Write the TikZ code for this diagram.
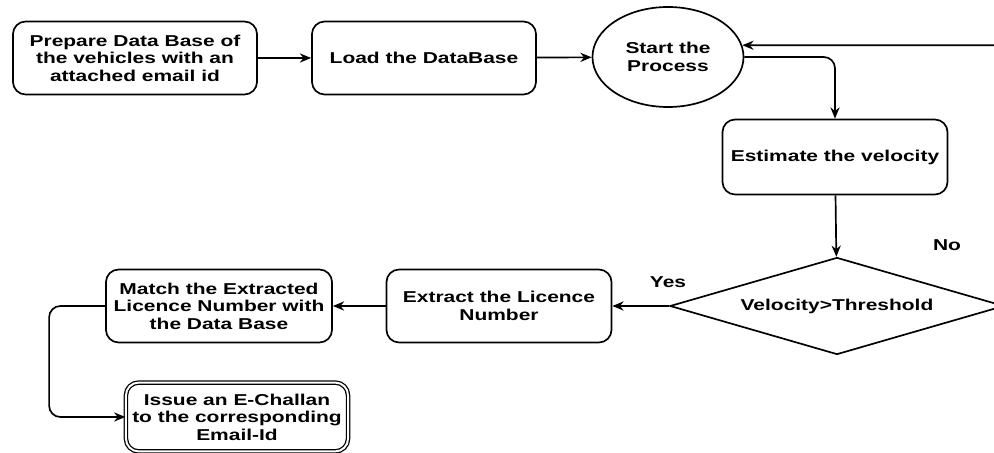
\documentclass[tikz,border=0pt]{standalone}
\usepackage{fontspec}
\setmainfont{Liberation Sans}[FakeStretch=1.33]
\usetikzlibrary{shapes.geometric,arrows.meta}

\begin{document}
\begin{tikzpicture}[x=0.025cm,y=-0.025cm,>={Stealth[length=8pt,width=6.5pt]},
    every node/.style={font=\bfseries\fontsize{11.2}{12.4}\selectfont,align=center},
    box/.style={draw,line width=1.2pt,rounded corners=9pt,inner sep=0pt},
    line/.style={->,line width=1.2pt}]
  \useasboundingbox (0,0) rectangle (994,453);
  \node[box,minimum width=6.1cm,minimum height=1.825cm] (prep) at (135,58) {Prepare Data Base of\\the vehicles with an\\attached email id};
  \node[box,minimum width=5.6cm,minimum height=1.825cm] (load) at (424,58) {Load the DataBase};
  \node[draw,ellipse,line width=1.2pt,minimum width=3.775cm,minimum height=2.5cm,inner sep=0pt] (start) at (668,57) {Start the\\Process};
  \node[box,minimum width=5.625cm,minimum height=1.875cm] (est) at (835,157) {Estimate the velocity};
  \node[draw,diamond,aspect=3.44,line width=1.2pt,minimum width=8.35cm,minimum height=2.425cm,inner sep=0pt] (dec) at (837,306) {Velocity>Threshold};
  \node[box,minimum width=5.625cm,minimum height=1.825cm] (ext) at (499,306) {Extract the Licence\\Number};
  \node[box,minimum width=5.65cm,minimum height=1.825cm] (match) at (219,306) {Match the Extracted\\Licence Number with\\the Data Base};
  \node[box,double,double distance=1.4pt,line width=0.9pt,minimum width=5.55cm,minimum height=1.72cm] (issue) at (237,417) {Issue an E-Challan\\to the corresponding\\Email-Id};
  \node (no) at (947,245) {No};
  \node (yes) at (668,282) {Yes};
  \draw[line] (prep) -- (load);
  \draw[line] (load) -- (start);
  \draw[line,rounded corners=8pt] (start.east) -| (est.north);
  \draw[line] (est) -- (dec);
  \draw[line,rounded corners=8pt] (dec.east) -- ++(20,0) |- (start.9);
  \draw[line] (dec) -- (ext);
  \draw[line] (ext) -- (match);
  \draw[line,rounded corners=8pt] (match.west) -- ++(-56,0) |- (issue.west);
\end{tikzpicture}
\end{document}
